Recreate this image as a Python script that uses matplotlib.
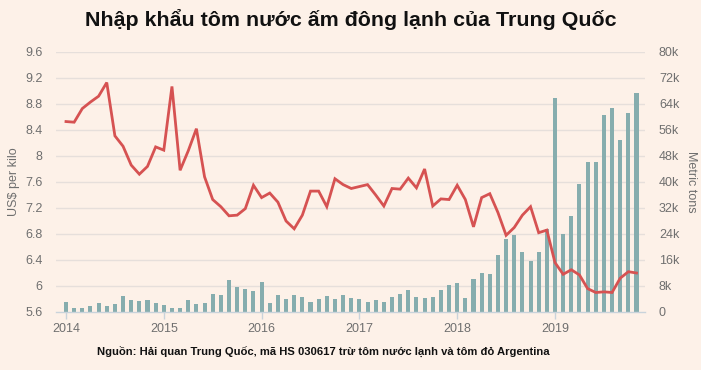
import matplotlib
matplotlib.use("Agg")
import matplotlib.pyplot as plt
import numpy as np

plt.rcParams['font.family'] = ['Liberation Sans Narrow', 'Liberation Sans', 'DejaVu Sans']

# Monthly data Jan 2014 .. Nov 2019
price = [8.53, 8.52, 8.73, 8.83, 8.92, 9.13, 8.31, 8.15, 7.86, 7.72, 7.84, 8.14,
         8.09, 9.07, 7.78, 8.08, 8.42, 7.68, 7.33, 7.22, 7.08, 7.09, 7.19, 7.55,
         7.36, 7.43, 7.29, 7.00, 6.88, 7.09, 7.46, 7.46, 7.22, 7.65, 7.56, 7.50,
         7.53, 7.56, 7.40, 7.23, 7.50, 7.49, 7.66, 7.51, 7.80, 7.23, 7.34, 7.33,
         7.55, 7.33, 6.91, 7.36, 7.42, 7.13, 6.78, 6.90, 7.09, 7.22, 6.82, 6.86,
         6.36, 6.18, 6.25, 6.17, 5.96, 5.90, 5.91, 5.90, 6.12, 6.22, 6.20]
volume_k = [3.1, 1.2, 1.2, 1.8, 2.7, 1.8, 2.5, 4.8, 3.6, 3.3, 3.6, 2.7,
            2.1, 1.1, 1.1, 3.6, 2.4, 2.9, 5.4, 5.2, 9.8, 7.7, 7.0, 6.5,
            9.2, 2.8, 5.1, 4.0, 5.2, 4.6, 3.1, 4.1, 4.9, 4.0, 5.2, 4.4,
            4.1, 3.1, 3.7, 3.1, 4.7, 5.6, 6.9, 4.7, 4.4, 4.7, 6.9, 8.4,
            9.0, 4.4, 10.1, 12.0, 11.7, 17.6, 22.5, 23.7, 18.5, 15.7, 18.5, 25.5,
            65.8, 24.0, 29.6, 39.4, 46.3, 46.3, 60.7, 62.8, 52.9, 61.2, 67.4]
years = ['2014', '2015', '2016', '2017', '2018', '2019']
left_ticks = [5.6, 6, 6.4, 6.8, 7.2, 7.6, 8, 8.4, 8.8, 9.2, 9.6]
left_labels = ['5.6', '6', '6.4', '6.8', '7.2', '7.6', '8', '8.4', '8.8', '9.2', '9.6']
right_ticks = [0, 8, 16, 24, 32, 40, 48, 56, 64, 72, 80]
right_labels = ['0', '8k', '16k', '24k', '32k', '40k', '48k', '56k', '64k', '72k', '80k']

bg = '#fdf1e8'
fig = plt.figure(figsize=(7.01, 3.70), dpi=100, facecolor=bg)
ax = fig.add_axes([56/701, 1-312/370, (645-56)/701, 260/370])
ax.set_facecolor(bg)
ax2 = ax.twinx()

months = np.arange(len(price))

# bars on right axis
ax2.bar(months, volume_k, width=0.5, color='#86adae', zorder=2)
ax2.set_ylim(0, 80)
ax2.set_yticks(right_ticks)
ax2.set_yticklabels(right_labels)

# line on left axis (draw on top)
ax.set_zorder(ax2.get_zorder() + 1)
ax.patch.set_visible(False)
ax2.set_facecolor(bg)
ax.plot(months, price, color='#d65252', lw=2.0, zorder=3, solid_joinstyle='miter')
ax.set_ylim(5.6, 9.6)
ax.set_yticks(left_ticks)
ax.set_yticklabels(left_labels)

ax.set_xlim((56-66)/8.15, (645-66)/8.15)
ax.set_xticks([0, 12, 24, 36, 48, 60])
ax.set_xticklabels(years)

# gridlines drawn on ax2 (behind bars)
for t in right_ticks[1:]:
    ax2.axhline(t, color='#e6dfdb', lw=1, zorder=0)

for a in (ax, ax2):
    for s in a.spines.values():
        s.set_visible(False)
ax.spines['bottom'].set_visible(True)
ax.spines['bottom'].set_color('#c9d3db')
ax.spines['bottom'].set_linewidth(1)

ax.tick_params(axis='y', length=0, labelsize=9, labelcolor='#6f6f6f', pad=9.5)
ax2.tick_params(axis='y', length=0, labelsize=9, labelcolor='#6f6f6f', pad=10)
ax.tick_params(axis='x', length=5, width=1, color='#c9d3db', labelsize=9,
               labelcolor='#6f6f6f', pad=3)

ax.set_ylabel('US$ per kilo', fontsize=9, color='#6f6f6f', labelpad=4)
ax2.set_ylabel('Metric tons', fontsize=9, color='#6f6f6f', rotation=270, labelpad=13)

fig.text(0.5, 1-20/370, 'Nhập khẩu tôm nước ấm đông lạnh của Trung Quốc',
         ha='center', va='center', fontsize=15.4, fontweight='bold', color='#111111')
fig.text(323/701, 1-351/370,
         'Nguồn: Hải quan Trung Quốc, mã HS 030617 trừ tôm nước lạnh và tôm đỏ Argentina',
         ha='center', va='center', fontsize=8.1, fontweight='bold', color='#111111')

fig.savefig('out.png', dpi=100, facecolor=bg)
